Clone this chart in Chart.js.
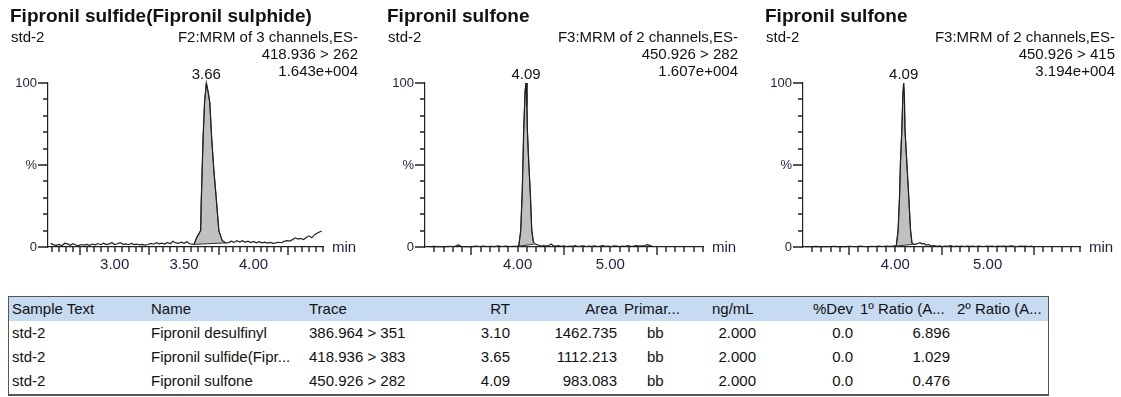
<!DOCTYPE html>
<html>
<head>
<meta charset="utf-8">
<script src="https://cdn.jsdelivr.net/npm/chart.js@4.4.0/dist/chart.umd.min.js"></script>
<style>
    body { margin: 0; background: #fff; width: 1121px; height: 397px; overflow: hidden; position: relative; font-family: "Liberation Sans", Arial, sans-serif; }
    .panel { position: absolute; top: 0; height: 290px; }
    .celda { position: absolute; font-size: 15px; line-height: 20px; color: #111; white-space: nowrap; }
    #marcoTabla { position: absolute; left: 8px; top: 296px; width: 1039px; height: 97px; border: 1px solid #555; border-bottom-width: 2px; }
    #cabeceraTabla { position: absolute; left: 9px; top: 297px; width: 1039px; height: 24px; background: #c6daf1; }
</style>
</head>
<body>
<div class="panel" style="left:0;width:372px"><canvas id="grafico1"></canvas></div>
<div class="panel" style="left:378px;width:372px"><canvas id="grafico2"></canvas></div>
<div class="panel" style="left:756px;width:365px"><canvas id="grafico3"></canvas></div>
<div id="marcoTabla"></div>
<div id="cabeceraTabla"></div>
<script>
// ---- panel 1: Fipronil sulfide, 418.936 > 262
const ruidoAntesT1 = [2.54,2.56,2.58,2.60,2.62,2.64,2.66,2.68,2.70,2.72,2.74,2.76,2.78,2.80,2.82,2.84,2.86,2.88,2.90,2.92,2.94,2.96,2.98,3.00,3.02,3.04,3.06,3.08,3.10,3.12,3.14,3.16,3.18,3.20,3.22,3.24,3.26,3.28,3.30,3.32,3.34,3.36,3.38,3.40,3.42,3.44,3.46,3.48,3.50,3.52,3.54,3.56];
const ruidoAntesI1 = [2.2,1.3,1.0,1.6,0.8,2.3,1.9,1.0,2.0,1.2,0.9,1.5,1.1,1.6,1.0,1.8,1.3,2.1,1.4,2.3,1.5,1.9,2.6,1.5,2.0,2.7,1.6,1.9,1.4,2.2,1.5,1.8,1.3,1.6,1.2,1.5,2.2,1.7,2.6,1.9,2.4,1.8,2.8,2.0,3.5,2.5,2.2,3.0,2.3,3.2,2.0,1.7];
const picoT1 = [3.571,3.592,3.619,3.623,3.630,3.637,3.647,3.66,3.672,3.685,3.698,3.714,3.734,3.750,3.774,3.80];
const picoI1 = [1.6,6,10,27,47,67,88,100,95,88,67,47,27,10,4,2.5];
const lineaBaseT1 = [3.571, 3.80];
const lineaBaseI1 = [1.6, 2.5];
const ruidoDespuesT1 = [3.82,3.84,3.86,3.88,3.90,3.92,3.94,3.96,3.98,4.00,4.02,4.04,4.06,4.08,4.10,4.12,4.14,4.16,4.18,4.20,4.22,4.24,4.26,4.28,4.30,4.32,4.34,4.36,4.38,4.40,4.42,4.44,4.46,4.49];
const ruidoDespuesI1 = [2.7,3.5,2.8,3.9,3.0,3.8,2.9,3.5,2.7,3.4,2.6,3.3,2.5,3.0,2.4,2.8,2.2,2.5,2.9,2.6,3.4,3.9,3.6,4.5,5.6,4.8,5.2,4.6,5.8,6.8,5.6,7.5,8.5,9.8];
const etiquetasX1 = [3.00, 3.50, 4.00];

// ---- panel 2: Fipronil sulfone, 450.926 > 282
const ruidoAntesT2 = [3.02,3.06,3.10,3.14,3.18,3.22,3.26,3.30,3.33,3.36,3.39,3.43,3.47,3.51,3.55,3.59,3.63,3.67,3.71,3.75,3.79,3.83,3.87,3.91,3.95,3.99];
const ruidoAntesI2 = [0.3,0.2,0.4,0.2,0.3,0.2,0.4,0.3,0.6,1.3,0.4,0.2,0.3,0.2,0.5,0.3,0.6,0.3,0.4,0.2,0.7,0.3,0.5,0.3,0.4,0.5];
const picoT2 = [4.012,4.033,4.05,4.065,4.08,4.09,4.10,4.105,4.12,4.138,4.152,4.17];
const picoI2 = [0.6,10,35,71,95,100,86,71,51,31,10,3];
const lineaBaseT2 = [4.012, 4.18];
const lineaBaseI2 = [0.5, 1.8];
const ruidoDespuesT2 = [4.19,4.22,4.25,4.28,4.31,4.34,4.36,4.38,4.41,4.44,4.47,4.50,4.53,4.56,4.59,4.62,4.65,4.68,4.71,4.74,4.77,4.80,4.83,4.86,4.89,4.92,4.95,4.98,5.01,5.04,5.07,5.10,5.13,5.16,5.19,5.22,5.25,5.28,5.31,5.34,5.37,5.40,5.43,5.46];
const ruidoDespuesI2 = [1.8,1.2,0.6,0.9,0.5,1.1,1.8,0.9,0.5,0.8,0.4,0.7,0.3,0.6,0.4,0.8,0.3,0.5,0.7,0.3,0.6,0.4,0.7,0.3,0.5,0.8,0.4,0.6,0.3,0.7,0.5,0.3,0.6,0.4,0.8,0.4,0.6,0.9,0.5,0.7,0.9,1.4,0.8,0.3];
const etiquetasX2 = [4.00, 5.00];

// ---- panel 3: Fipronil sulfone, 450.926 > 415
const ruidoAntesT3 = [3.02,3.06,3.10,3.14,3.18,3.22,3.26,3.30,3.34,3.38,3.42,3.46,3.50,3.54,3.58,3.62,3.66,3.70,3.74,3.78,3.82,3.86,3.90,3.94,3.97,3.99];
const ruidoAntesI3 = [0.2,0.3,0.2,0.4,0.2,0.3,0.2,0.3,0.4,0.2,0.3,0.2,0.4,0.3,0.2,0.5,0.3,0.2,0.4,0.3,0.5,0.3,0.6,0.4,0.5,0.7];
const picoT3 = [4.01,4.03,4.045,4.055,4.07,4.082,4.09,4.098,4.105,4.125,4.145,4.165,4.18];
const picoI3 = [0.7,10,30,51,71,93,100,92,71,51,31,10,2.5];
const lineaBaseT3 = [4.01, 4.19];
const lineaBaseI3 = [0.6, 1.6];
const ruidoDespuesT3 = [4.20,4.23,4.25,4.27,4.29,4.31,4.33,4.36,4.39,4.42,4.45,4.48,4.51,4.54,4.57,4.60,4.63,4.66,4.69,4.72,4.75,4.78,4.81,4.84,4.87,4.90,4.93,4.96,4.99,5.02,5.05,5.08,5.11,5.14,5.17,5.20,5.23,5.26,5.29,5.32,5.35,5.38,5.41,5.44,5.47,5.49];
const ruidoDespuesI3 = [1.6,1.9,2.3,2.6,1.8,2.2,1.2,1.5,0.6,0.9,0.4,0.7,0.3,0.6,0.4,0.8,0.3,0.5,0.4,0.6,0.3,0.5,0.4,0.6,0.3,0.5,0.4,0.3,0.5,0.4,0.6,0.3,0.5,0.4,0.6,0.4,0.5,0.7,0.4,0.3,0.5,0.4,0.6,0.3,0.5,0.2];
const etiquetasX3 = [4.00, 5.00];

// eje Y comun (%)
const marcasY = [0,10,20,30,40,50,60,70,80,90,100];
const etiquetasY = { 0: "0", 50: "%", 100: "100" };

// ---- tabla de resultados
const textoMuestra = ["std-2", "std-2", "std-2"];
const nombres = ["Fipronil desulfinyl", "Fipronil sulfide(Fipr...", "Fipronil sulfone"];
const trazas = ["386.964 > 351", "418.936 > 383", "450.926 > 282"];
const tiemposRet = ["3.10", "3.65", "4.09"];
const areas = ["1462.735", "1112.213", "983.083"];
const tiposPico = ["bb", "bb", "bb"];
const concentraciones = ["2.000", "2.000", "2.000"];
const desviaciones = ["0.0", "0.0", "0.0"];
const ratios1 = ["6.896", "1.029", "0.476"];
const ratios2 = ["", "", ""];

const FUENTE = '"Liberation Sans", Arial, sans-serif';
const COLOR_EJE = "#1f2040";

function aPuntos(ts, is) {
    return ts.map((t, k) => ({ x: t, y: is[k] }));
}

// titulos, marcas de los ejes y etiqueta del pico; cfg va por cierre
function crearDecoracion(cfg) {
    return {
        id: "decoracion",
        afterDraw(chart) {
            const { ctx, chartArea: a, scales: { x, y } } = chart;
            ctx.save();
            ctx.strokeStyle = "#222";
            ctx.lineWidth = 1.4;
            ctx.beginPath();
            const nMarcas = Math.round((x.max - cfg.primerMenor) / cfg.pasoMenor);
            for (let i = 0; i <= nMarcas; i++) {
                const v = cfg.primerMenor + i * cfg.pasoMenor;
                if (v > x.max + 1e-6) break;
                const r = (v - cfg.primerMayor) / cfg.pasoMayor;
                const largo = Math.abs(r - Math.round(r)) < 1e-3 ? 8 : 5;
                const px = Math.round(x.getPixelForValue(v));
                ctx.moveTo(px, a.bottom);
                ctx.lineTo(px, a.bottom + largo);
            }
            marcasY.forEach((v) => {
                const py = Math.round(y.getPixelForValue(v));
                const largo = etiquetasY[v] ? 10 : 5;
                ctx.moveTo(a.left - largo, py);
                ctx.lineTo(a.left, py);
            });
            ctx.stroke();

            ctx.fillStyle = "#111";
            ctx.textBaseline = "alphabetic";
            ctx.textAlign = "left";
            ctx.font = "bold 19px " + FUENTE;
            ctx.fillText(cfg.titulo, a.left - 38, 22);
            ctx.font = "15px " + FUENTE;
            ctx.fillText("std-2", a.left - 37, 42);
            ctx.textAlign = "right";
            cfg.cabecera.forEach((linea, k) => {
                ctx.fillText(linea, a.right + 35, 42 + k * 17);
            });
            ctx.textAlign = "center";
            ctx.fillText(cfg.picoTexto, x.getPixelForValue(cfg.picoTiempo), y.getPixelForValue(100) - 4);
            ctx.textAlign = "left";
            ctx.textBaseline = "middle";
            ctx.fillStyle = COLOR_EJE;
            ctx.fillText("min", a.right + 9, a.bottom + 1);
            ctx.restore();
        }
    };
}

function crearPanel(id, cfg) {
    const trazaCompleta = aPuntos(cfg.antesT, cfg.antesI)
        .concat(aPuntos(cfg.picoT, cfg.picoI))
        .concat(aPuntos(cfg.despuesT, cfg.despuesI));

    new Chart(document.getElementById(id), {
        type: "line",
        data: {
            datasets: [
                { data: trazaCompleta, borderColor: "#202020", borderWidth: 1.2, pointRadius: 0, fill: false, order: 1, clip: false, tension: 0 },
                { data: aPuntos(cfg.picoT, cfg.picoI), borderColor: "#333", borderWidth: 1, pointRadius: 0, backgroundColor: "#c0c0c0", fill: 2, order: 2, clip: false },
                { data: aPuntos(cfg.baseT, cfg.baseI), borderColor: "#333", borderWidth: 1, pointRadius: 0, fill: false, order: 0, clip: false }
            ]
        },
        options: {
            responsive: true,
            maintainAspectRatio: false,
            animation: false,
            events: [],
            layout: { padding: { top: 83, right: cfg.margenDerecho, left: 0, bottom: 0 } },
            scales: {
                x: {
                    type: "linear",
                    min: cfg.xMin,
                    max: cfg.xMax,
                    afterFit(s) { s.height = 43; },
                    afterBuildTicks(s) { s.ticks = cfg.etiquetasX.map((v) => ({ value: v })); },
                    ticks: {
                        autoSkip: false,
                        maxRotation: 0,
                        padding: 9,
                        color: COLOR_EJE,
                        font: { size: 15, family: FUENTE },
                        callback: (v) => Number(v).toFixed(2)
                    },
                    grid: { display: false, drawTicks: false },
                    border: { display: true, color: "#222", width: 1.2 }
                },
                y: {
                    type: "linear",
                    min: 0,
                    max: 100,
                    afterFit(s) { s.width = cfg.anchoEjeY; },
                    afterBuildTicks(s) { s.ticks = marcasY.map((v) => ({ value: v })); },
                    ticks: {
                        autoSkip: false,
                        padding: 11,
                        color: COLOR_EJE,
                        font: { size: 13, family: FUENTE },
                        callback: (v) => etiquetasY[v] || ""
                    },
                    grid: { display: false, drawTicks: false },
                    border: { display: true, color: "#222", width: 1.2 }
                }
            },
            plugins: {
                legend: { display: false },
                tooltip: { enabled: false }
            }
        },
        plugins: [crearDecoracion(cfg)]
    });
}

crearPanel("grafico1", {
    titulo: "Fipronil sulfide(Fipronil sulphide)",
    cabecera: ["F2:MRM of 3 channels,ES-", "418.936 > 262", "1.643e+004"],
    picoTexto: "3.66", picoTiempo: 3.66,
    antesT: ruidoAntesT1, antesI: ruidoAntesI1,
    picoT: picoT1, picoI: picoI1,
    baseT: lineaBaseT1, baseI: lineaBaseI1,
    despuesT: ruidoDespuesT1, despuesI: ruidoDespuesI1,
    etiquetasX: etiquetasX1,
    xMin: 2.52, xMax: 4.50,
    primerMenor: 2.55, pasoMenor: 0.05, primerMayor: 2.75, pasoMayor: 0.5,
    anchoEjeY: 48, margenDerecho: 49
});

crearPanel("grafico2", {
    titulo: "Fipronil sulfone",
    cabecera: ["F3:MRM of 2 channels,ES-", "450.926 > 282", "1.607e+004"],
    picoTexto: "4.09", picoTiempo: 4.09,
    antesT: ruidoAntesT2, antesI: ruidoAntesI2,
    picoT: picoT2, picoI: picoI2,
    baseT: lineaBaseT2, baseI: lineaBaseI2,
    despuesT: ruidoDespuesT2, despuesI: ruidoDespuesI2,
    etiquetasX: etiquetasX2,
    xMin: 3.0, xMax: 6.0,
    primerMenor: 3.1, pasoMenor: 0.1, primerMayor: 3.5, pasoMayor: 1.0,
    anchoEjeY: 47, margenDerecho: 47
});

crearPanel("grafico3", {
    titulo: "Fipronil sulfone",
    cabecera: ["F3:MRM of 2 channels,ES-", "450.926 > 415", "3.194e+004"],
    picoTexto: "4.09", picoTiempo: 4.09,
    antesT: ruidoAntesT3, antesI: ruidoAntesI3,
    picoT: picoT3, picoI: picoI3,
    baseT: lineaBaseT3, baseI: lineaBaseI3,
    despuesT: ruidoDespuesT3, despuesI: ruidoDespuesI3,
    etiquetasX: etiquetasX3,
    xMin: 3.0, xMax: 6.0,
    primerMenor: 3.1, pasoMenor: 0.1, primerMayor: 3.5, pasoMayor: 1.0,
    anchoEjeY: 47, margenDerecho: 41
});

// tabla: cada columna con su cabecera y sus datos
const columnas = [
    { titulo: "Sample Text", datos: textoMuestra, x: 12, alin: "left" },
    { titulo: "Name", datos: nombres, x: 151, alin: "left" },
    { titulo: "Trace", datos: trazas, x: 309, alin: "left" },
    { titulo: "RT", datos: tiemposRet, x: 510, alin: "right" },
    { titulo: "Area", datos: areas, x: 617, alin: "right" },
    { titulo: "Primar...", datos: tiposPico, x: 624, xDatos: 647, alin: "left" },
    { titulo: "ng/mL", datos: concentraciones, x: 712, xDatos: 756, alin: "left", alinDatos: "right" },
    { titulo: "%Dev", datos: desviaciones, x: 853, alin: "right" },
    { titulo: "1º Ratio (A...", datos: ratios1, x: 860, xDatos: 950, alin: "left", alinDatos: "right" },
    { titulo: "2º Ratio (A...", datos: ratios2, x: 957, alin: "left" }
];
const centrosFila = [309, 333, 357, 381];

function ponerCelda(texto, x, alin, centro) {
    const d = document.createElement("div");
    d.className = "celda";
    d.textContent = texto;
    d.style.top = (centro - 10) + "px";
    if (alin === "right") {
        d.style.left = (x - 200) + "px";
        d.style.width = "200px";
        d.style.textAlign = "right";
    } else {
        d.style.left = x + "px";
    }
    document.body.appendChild(d);
}

columnas.forEach((c) => {
    ponerCelda(c.titulo, c.x, c.alin, centrosFila[0]);
    c.datos.forEach((v, k) => {
        ponerCelda(v, c.xDatos ?? c.x, c.alinDatos ?? c.alin, centrosFila[k + 1]);
    });
});
</script>
</body>
</html>
